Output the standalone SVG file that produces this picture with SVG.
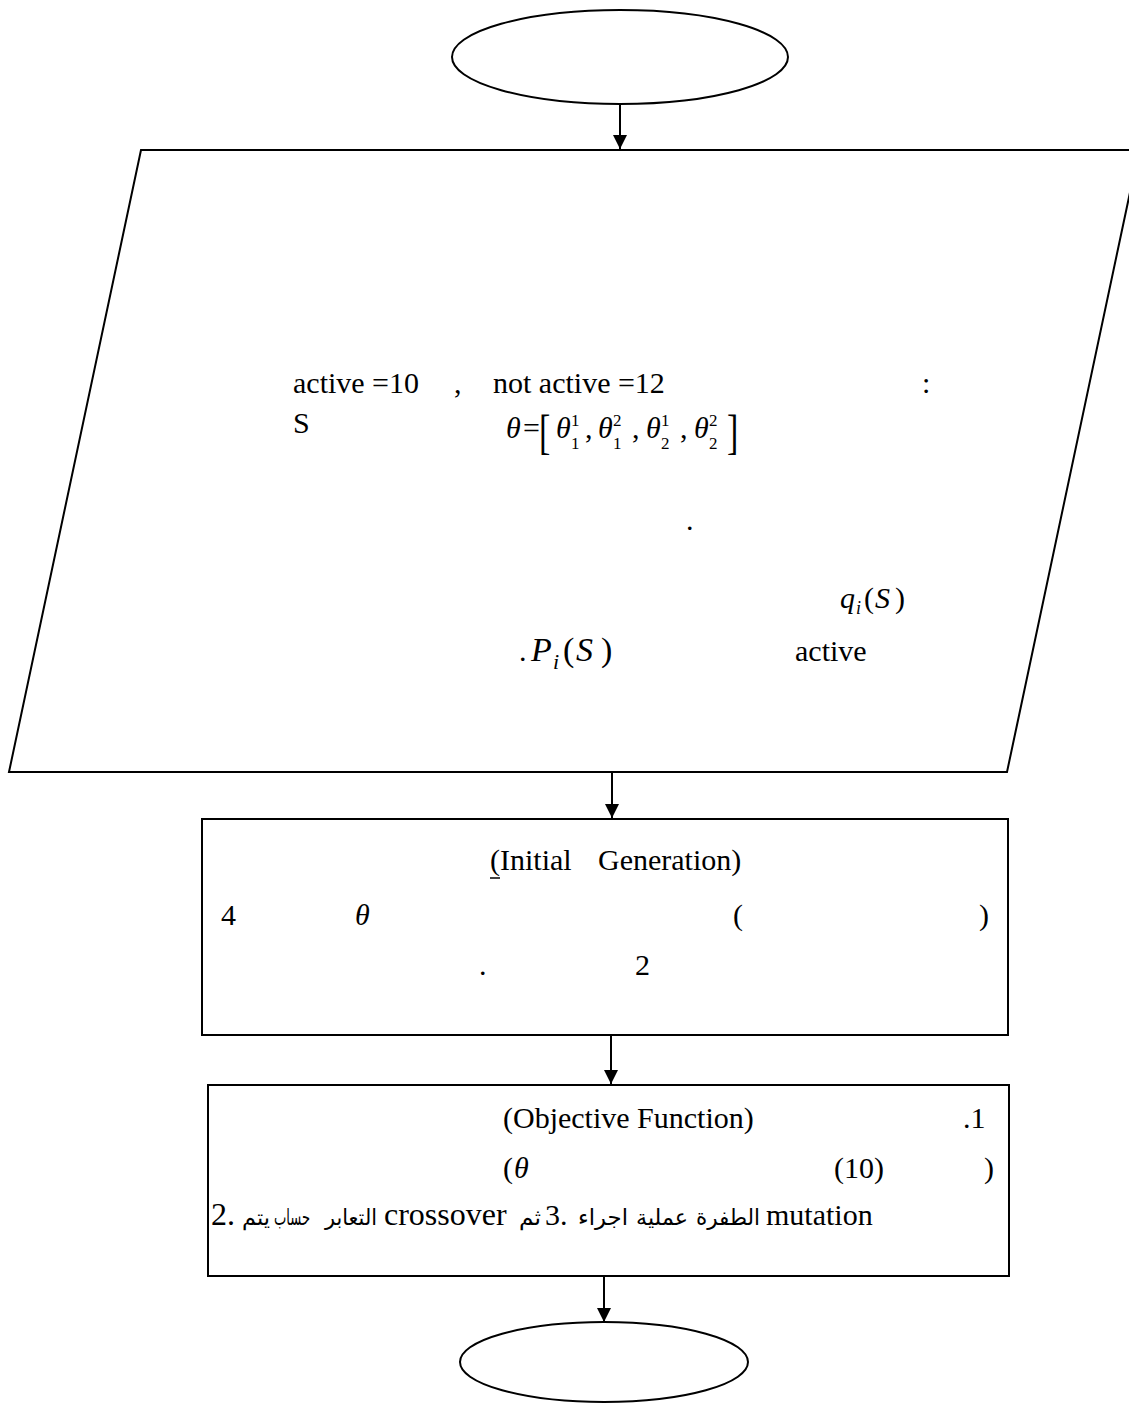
<svg xmlns="http://www.w3.org/2000/svg" width="1129" height="1410" viewBox="0 0 1129 1410">
<defs>
<marker id="ah" markerWidth="15" markerHeight="15" refX="14" refY="7" orient="auto" markerUnits="userSpaceOnUse">
<path d="M0,0 L14,7 L0,14 Z" fill="#000"/>
</marker>
<style>
.sh{fill:#fff;stroke:#000;stroke-width:2}
.t{font-family:"Liberation Serif","Times New Roman",serif;font-size:30px;fill:#000}
.m{font-family:"Liberation Serif","Times New Roman",serif;font-style:italic;font-size:30px;fill:#000}
.s{font-family:"Liberation Serif","Times New Roman",serif;font-size:17px;fill:#000}
.ar{font-family:"Liberation Serif","DejaVu Sans",sans-serif;font-size:22px;fill:#000;text-anchor:middle}
.c{stroke:#000;stroke-width:2;fill:none}
</style>
</defs>
<g id="start"><ellipse class="sh" cx="620" cy="57" rx="168" ry="47"/></g>
<g id="input">
<polygon class="sh" points="141,150 1139,150 1007,772 9,772"/>
<text class="t" x="293" y="393">active =10</text>
<text class="t" x="454" y="393">,</text>
<text class="t" x="493" y="393">not active =12</text>
<text class="t" x="922" y="393">:</text>
<text class="t" x="293" y="433">S</text>
<text class="m" x="506" y="438">θ</text>
<text class="t" x="523" y="438">=</text>
<text class="t" transform="translate(539,448) scale(1,1.45)" style="font-size:34px">[</text>
<text class="m" x="556" y="438">θ</text><text class="s" x="571" y="426">1</text><text class="s" x="571" y="449">1</text><text class="t" x="585" y="438">,</text>
<text class="m" x="598" y="438">θ</text><text class="s" x="613" y="426">2</text><text class="s" x="613" y="449">1</text><text class="t" x="632" y="438">,</text>
<text class="m" x="646" y="438">θ</text><text class="s" x="661" y="426">1</text><text class="s" x="661" y="449">2</text><text class="t" x="680" y="438">,</text>
<text class="m" x="694" y="438">θ</text><text class="s" x="709" y="426">2</text><text class="s" x="709" y="449">2</text>
<text class="t" transform="translate(727,448) scale(1,1.45)" style="font-size:34px">]</text>
<text class="t" x="686" y="530">.</text>
<text class="m" x="840" y="608">q</text><text class="m" x="856" y="614" style="font-size:18px">i</text><text class="t" x="864" y="608">(</text><text class="m" x="875" y="608">S</text><text class="t" x="895" y="608">)</text>
<text class="t" x="519" y="661">.</text>
<text class="m" x="531" y="661" style="font-size:34px">P</text><text class="m" x="553" y="669" style="font-size:22px">i</text><text class="t" x="563" y="661" style="font-size:34px">(</text><text class="m" x="576" y="661" style="font-size:34px">S</text><text class="t" x="601" y="661" style="font-size:34px">)</text>
<text class="t" x="795" y="661">active</text>
</g>
<g id="init">
<rect class="sh" x="202" y="819" width="806" height="216"/>
<text class="t" x="490" y="870">(Initial</text>
<text class="t" x="598" y="870">Generation)</text>
<line x1="490" y1="878" x2="500" y2="878" stroke="#000" stroke-width="1.5"/>
<text class="t" x="221" y="925">4</text>
<text class="m" x="355" y="925">θ</text>
<text class="t" x="733" y="925">(</text>
<text class="t" x="979" y="925">)</text>
<text class="t" x="479" y="975">.</text>
<text class="t" x="635" y="975">2</text>
</g>
<g id="objective">
<rect class="sh" x="208" y="1085" width="801" height="191"/>
<text class="t" x="503" y="1128">(Objective Function)</text>
<text class="t" x="963" y="1128">.1</text>
<text class="t" x="503" y="1178">(</text><text class="m" x="514" y="1178">θ</text>
<text class="t" x="834" y="1178">(10)</text>
<text class="t" x="984" y="1178">)</text>
<text class="t" x="211" y="1225" style="font-size:32px">2.</text>
<text class="ar" x="256" y="1225" textLength="28" lengthAdjust="spacingAndGlyphs">يتم</text>
<text class="ar" x="292" y="1225" textLength="36" lengthAdjust="spacingAndGlyphs">حساب</text>
<text class="ar" x="351" y="1225" textLength="52" lengthAdjust="spacingAndGlyphs">التعابر</text>
<text class="t" x="384" y="1225" style="font-size:32px">crossover</text>
<text class="ar" x="530" y="1225" textLength="22" lengthAdjust="spacingAndGlyphs">ثم</text>
<text class="t" x="545" y="1225">3.</text>
<text class="ar" x="603" y="1225" textLength="50" lengthAdjust="spacingAndGlyphs">اجراء</text>
<text class="ar" x="662" y="1225" textLength="52" lengthAdjust="spacingAndGlyphs">عملية</text>
<text class="ar" x="728" y="1225" textLength="64" lengthAdjust="spacingAndGlyphs">الطفرة</text>
<text class="t" x="766" y="1225">mutation</text>
</g>
<g id="end"><ellipse class="sh" cx="604" cy="1362" rx="144" ry="40"/></g>
<g id="connectors">
<line class="c" x1="620" y1="104" x2="620" y2="149" marker-end="url(#ah)"/>
<line class="c" x1="612" y1="772" x2="612" y2="818" marker-end="url(#ah)"/>
<line class="c" x1="611" y1="1035" x2="611" y2="1084" marker-end="url(#ah)"/>
<line class="c" x1="604" y1="1276" x2="604" y2="1322" marker-end="url(#ah)"/>
</g>
</svg>
